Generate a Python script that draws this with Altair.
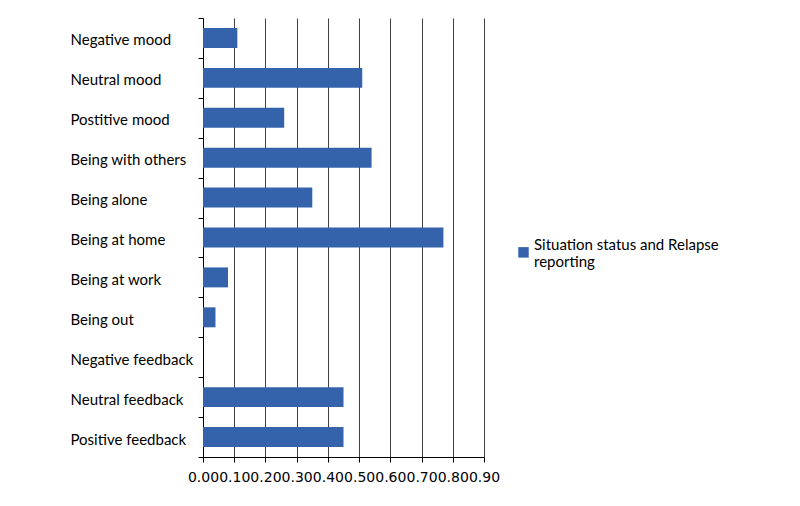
import altair as alt
import pandas as pd

categories = [
    "Negative mood", "Neutral mood", "Postitive mood", "Being with others",
    "Being alone", "Being at home", "Being at work", "Being out",
    "Negative feedback", "Neutral feedback", "Positive feedback",
]
values = [0.11, 0.51, 0.26, 0.54, 0.35, 0.77, 0.08, 0.04, 0.0, 0.45, 0.45]
series_name = "Situation status and Relapse reporting"
x_ticks = [0.0, 0.1, 0.2, 0.3, 0.4, 0.5, 0.6, 0.7, 0.8, 0.9]

df = pd.DataFrame({"category": categories, "value": values, "series": series_name})

chart = alt.Chart(df).mark_bar(
    height=alt.RelativeBandSize(band=0.5),
    color="#3463ab",
).encode(
    y=alt.Y("category:N", sort=categories, title=None,
            scale=alt.Scale(paddingInner=0, paddingOuter=0),
            axis=alt.Axis(tickBand="extent", tickSize=5, tickColor="#000000",
                          domainColor="#000000", labelAlign="left",
                          labelPadding=128, labelFont="Lato", labelFontSize=15,
                          labelOffset=2,
                          labelColor="#000000", grid=False, labelLimit=200)),
    x=alt.X("value:Q", title=None,
            scale=alt.Scale(domain=[0, 0.9], nice=False, zero=True),
            axis=alt.Axis(values=x_ticks, format=".2f", tickSize=5,
                          tickColor="#000000", domainColor="#000000",
                          grid=True, gridColor="#404040", gridOpacity=1,
                          labelFont="DejaVu Sans", labelFontSize=14,
                          labelColor="#000000", labelPadding=8,
                          labelOverlap=False, labelFlush=False)),
    color=alt.Color("series:N", title=None,
                    scale=alt.Scale(range=["#3463ab"]),
                    legend=alt.Legend(orient="none", legendX=313, legendY=219,
                                      symbolType="M-1,0.5L1,0.5L1,2.5L-1,2.5Z",
                                      symbolSize=110,
                                      symbolStrokeWidth=0,
                                      labelOffset=3,
                                      labelFont="Lato", labelFontSize=15,
                                      labelColor="#000000", labelLimit=300,
                                      labelExpr="['Situation status and Relapse', 'reporting']",
                                      padding=0)),
).properties(
    width=281, height=439,
    autosize=alt.AutoSizeParams(type="none"),
    padding={"left": 195, "top": 10, "right": 300, "bottom": 40},
).configure_view(stroke=None)

chart.save("out.html", embed_options={"renderer": "svg", "actions": False})
